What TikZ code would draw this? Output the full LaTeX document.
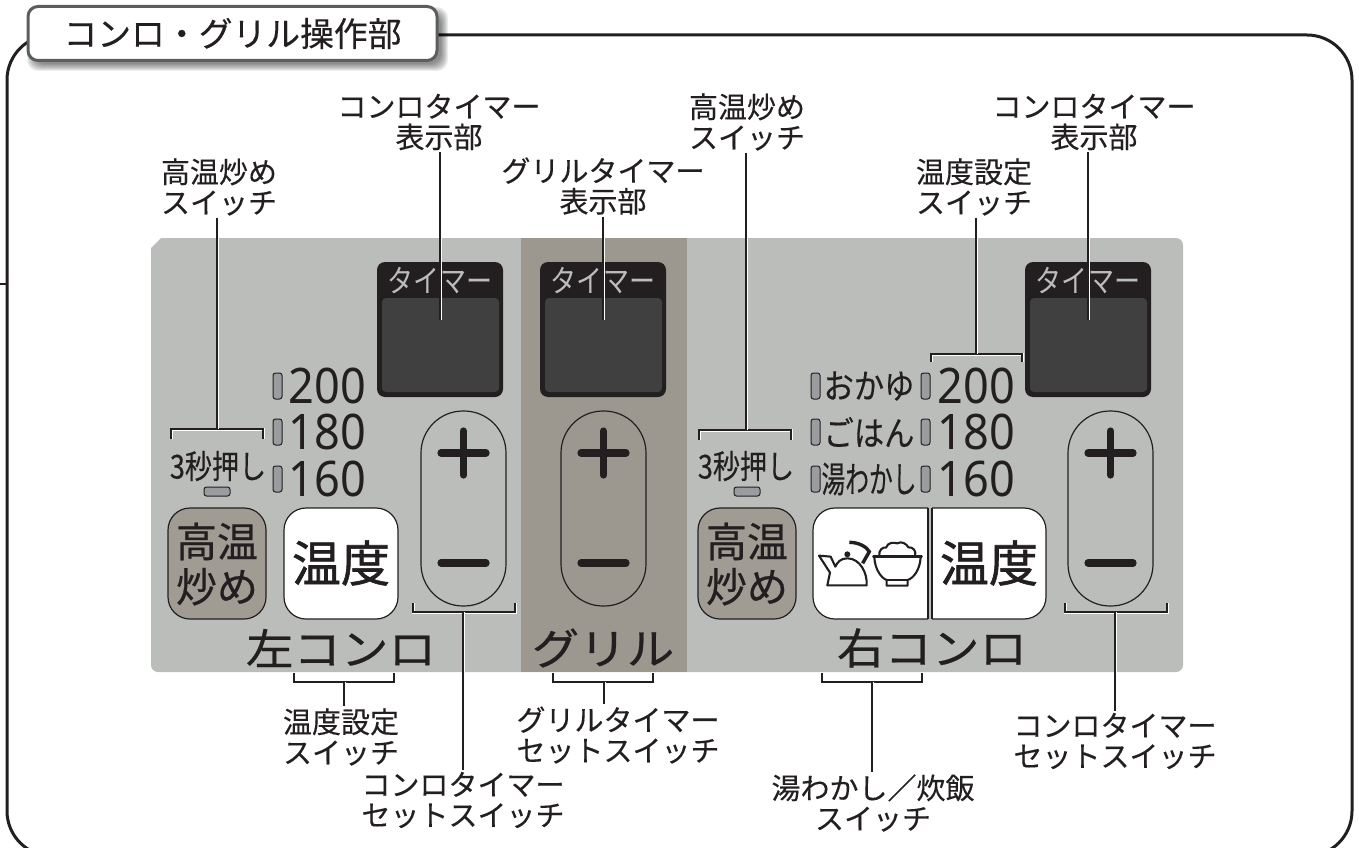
\documentclass[tikz,border=0pt]{standalone}
\usepackage{fontspec}
\setmainfont{Noto Sans CJK JP}
\newfontfamily\numfont{Noto Sans}
\newcommand{\fs}[1]{\fontsize{#1}{#1}\selectfont}
\newcommand{\wgtb}{\addfontfeature{FakeBold=0.5}}
\newcommand{\wgtc}{\addfontfeature{FakeBold=1.2}}
\newcommand{\wgta}{\addfontfeature{FakeBold=0.3}}
\definecolor{ink}{HTML}{231F20}
\definecolor{panelc}{HTML}{BBBDBB}
\definecolor{grillc}{HTML}{9C9890}
\definecolor{btnc}{HTML}{A09C94}
\definecolor{ledc}{HTML}{9A9CA0}
\definecolor{dispc}{HTML}{404040}
\definecolor{titleb}{HTML}{5A5E60}
\tikzset{
  lbl/.style={align=center,inner sep=2pt,text=ink,font=\fontsize{29}{30.5}\selectfont\wgta},
  halo/.style={draw=ink,line width=1.2pt,preaction={draw=white,line width=3pt}},
  led/.style={draw=ink,line width=1pt,fill=ledc,rounded corners=2.5pt},
  plus/.style={draw=ink,line width=7.2pt,line cap=round},
  btn/.style={draw=ink,line width=1.2pt,rounded corners=22pt},
  pill/.style={draw=ink,line width=1.2pt,rounded corners=42pt},
  num/.style={anchor=east,inner sep=0pt,text=ink,xscale=.92,font=\numfont\fs{49}},
  small/.style={inner sep=0pt,text=ink,font=\fs{34}\wgta},
  big/.style={inner sep=0pt,text=ink,yscale=.9,font=\fs{47.5}\wgtb},
  ico/.style={draw=ink,line width=2.1pt,line join=round,line cap=round},
}
\begin{document}
\begin{tikzpicture}[x=1pt,y=-1pt]
\useasboundingbox (0,0) rectangle (1359,848);
% outer frame
\draw[ink,line width=3pt,rounded corners=45pt] (7,35) rectangle (1352,856);
\draw[ink,line width=1.6pt] (0,284) -- (7,284);
% title
\foreach \o in {7,6,5,4,3,2,1,0}{
  \fill[black,opacity=0.07,rounded corners=11pt] (34-\o,14-\o) rectangle (441+\o,64+\o);}
\node[draw=titleb,fill=white,line width=3pt,rounded corners=10pt,minimum width=409pt,minimum height=54pt,inner sep=0pt,text=ink,font=\fs{33.8}\wgta] (title) at (232.5,33.5) {コンロ・グリル操作部};
% panel
\fill[panelc] (151,248) -- (151,665) arc[start angle=180,end angle=90,radius=7] -- (1176,672) arc[start angle=90,end angle=0,radius=7] -- (1183,245) arc[start angle=0,end angle=-90,radius=7] -- (161,238) -- cycle;
\fill[grillc] (521,238) rectangle (687,672);
% timers
\foreach \n/\x in {tl/377,tg/540,tr/1025}{
  \fill[ink,rounded corners=8pt] (\x,262) rectangle (\x+126,397);
  \fill[dispc,rounded corners=4pt] (\x+5,298) rectangle (\x+122,392);
  \node[inner sep=0pt,text=panelc,xscale=.84,font=\fs{31}] (\n) at (\x+63,281) {タイマー};
  \coordinate (\n disp) at (\x+63,320);
}
% pills
\foreach \n/\x in {pl/421,pg/561,pr/1068}{
  \draw[pill] (\x,411) rectangle (\x+85,606);
  \draw[plus] (\x+20,453) -- (\x+65,453);
  \draw[plus] (\x+42.5,431) -- (\x+42.5,475);
  \draw[plus] (\x+20,563) -- (\x+65,563);
  \coordinate (\n) at (\x+42.5,606);
}
% high-temp buttons
\foreach \n/\x in {hl/168,hr/698}{
  \draw[btn,fill=btnc] (\x,508) rectangle (\x+98,619);
  \node[inner sep=0pt,text=ink,align=center,font=\fontsize{41}{45}\selectfont\wgtb] (\n) at (\x+49,564) {高温\\炒め};
}
% temperature buttons
\draw[btn,fill=white] (284,508) rectangle (398,619);
\node[inner sep=0pt,text=ink,font=\fs{49}\wgtc] (tempL) at (341,563) {温度};
\begin{scope}
 \clip (805,500) rectangle (928,625);
 \draw[btn,fill=white] (813,508) rectangle (960,619);
\end{scope}
\begin{scope}
 \clip (932,500) rectangle (1055,625);
 \draw[btn,fill=white] (880,508) rectangle (1046,619);
\end{scope}
\draw[ink,line width=1.2pt] (928,508) -- (928,619);
\draw[ink,line width=1.2pt] (932,508) -- (932,619);
\node[inner sep=0pt,text=ink,font=\fs{49}\wgtc] (tempR) at (989,563) {温度};
% kettle and bowl
\begin{scope}[shift={(690,350)},x=0.3333pt,y=-0.3333pt]
 \draw[ico,fill=white] (412,706) -- (530,706) .. controls (533,670) and (510,625) .. (472,625) .. controls (452,625) and (442,637) .. (436,650) -- (422,620) -- (387,617) -- (420,668) -- cycle;
 \draw[ink,line width=3.4pt] (478,577) .. controls (505,577) and (530,590) .. (538,605) -- (518,640);
 \fill[ink] (472,613) circle (9);
 \draw[ico,line width=2.4pt] (550,620) -- (695,620);
 \draw[ico] (553,622) .. controls (555,660) and (575,685) .. (590,690) -- (590,707) -- (653,707) -- (653,690) .. controls (670,685) and (690,660) .. (692,622);
 \draw[ico] (590,690) -- (653,690);
 \draw[ico] (568,617) .. controls (565,600) and (580,590) .. (588,593) .. controls (595,575) and (610,578) .. (622,580) .. controls (635,572) and (650,582) .. (655,592) .. controls (670,590) and (680,605) .. (675,617);
\end{scope}
% LEDs
\foreach \x in {273,811,921}{
  \foreach \y in {373,419,466}{\draw[led] (\x,\y) rectangle (\x+9,\y+26);}
}
\draw[led] (204,487) rectangle (230,496);
\draw[led] (734,487) rectangle (760,496);
% numbers
\foreach \x/\s in {366/l,1015/r}{
 \node[num] (n200\s) at (\x,386) {200};
 \node[num] (n180\s) at (\x,432) {180};
 \node[num] (n160\s) at (\x,479) {160};
}
\node[small,xscale=.89] (okayu) at (869,386) {おかゆ};
\node[small,xscale=.89] (gohan) at (869,432) {ごはん};
\node[small,xscale=.66,font=\fs{36}\wgta] (yuwa) at (869,479) {湯わかし};
\node[small,xscale=.82,font=\fs{33}\wgta] (sec1) at (218,466) {3秒押し};
\node[small,xscale=.82,font=\fs{33}\wgta] (sec2) at (746,466) {3秒押し};
% section names
\node[big] (left) at (341,648) {左コンロ};
\node[big] (grill) at (603,648) {グリル};
\node[big] (right) at (932,648) {右コンロ};
% brackets
\coordinate (b1) at (217,429);
\draw[halo] (171,439) -- (171,429) -- (263,429) -- (263,439);
\coordinate (b2) at (746,430);
\draw[halo] (699,440) -- (699,430) -- (791,430) -- (791,440);
\coordinate (b3) at (976,354);
\draw[halo] (931,362) -- (931,354) -- (1022,354) -- (1022,362);
\coordinate (b4) at (463,612);
\draw[halo] (413,603) -- (413,612) -- (515,612) -- (515,603);
\coordinate (b5) at (1115,612);
\draw[halo] (1065,603) -- (1065,612) -- (1167,612) -- (1167,603);
\coordinate (b6) at (344,682);
\draw[halo] (294,673) -- (294,682) -- (394,682) -- (394,673);
\coordinate (b7) at (604,682);
\draw[halo] (553,673) -- (553,682) -- (653,682) -- (653,673);
\coordinate (b8) at (872,682);
\draw[halo] (822,673) -- (822,682) -- (922,682) -- (922,673);
% labels
\node[lbl] (a1) at (439,122) {コンロタイマー\\表示部};
\node[lbl] (a2) at (219,187) {高温炒め\\スイッチ};
\node[lbl] (a3) at (603,186) {グリルタイマー\\表示部};
\node[lbl] (a4) at (747,122) {高温炒め\\スイッチ};
\node[lbl] (a5) at (974,187) {温度設定\\スイッチ};
\node[lbl] (a6) at (1094,122) {コンロタイマー\\表示部};
\node[lbl] (c1) at (341,737) {温度設定\\スイッチ};
\node[lbl] (c2) at (618,735) {グリルタイマー\\セットスイッチ};
\node[lbl] (c3) at (463,800) {コンロタイマー\\セットスイッチ};
\node[lbl] (c4) at (873,803) {湯わかし／炊飯\\スイッチ};
\node[lbl] (c5) at (1115,741) {コンロタイマー\\セットスイッチ};
% leaders
\draw[halo] (a1.south -| tldisp) -- (tldisp);
\draw[halo] (a3.south -| tgdisp) -- (tgdisp);
\draw[halo] (a6.south -| trdisp) -- (trdisp);
\draw[halo] (a2.south -| b1) -- (b1);
\draw[halo] (a4.south -| b2) -- (b2);
\draw[halo] (a5.south -| b3) -- (b3);
\draw[halo] (b4) -- (c3.north -| b4);
\draw[halo] (b5) -- (c5.north -| b5);
\draw[halo] (b6) -- (c1.north -| b6);
\draw[halo] (b7) -- (c2.north -| b7);
\draw[halo] (b8) -- (c4.north -| b8);
\end{tikzpicture}
\end{document}
